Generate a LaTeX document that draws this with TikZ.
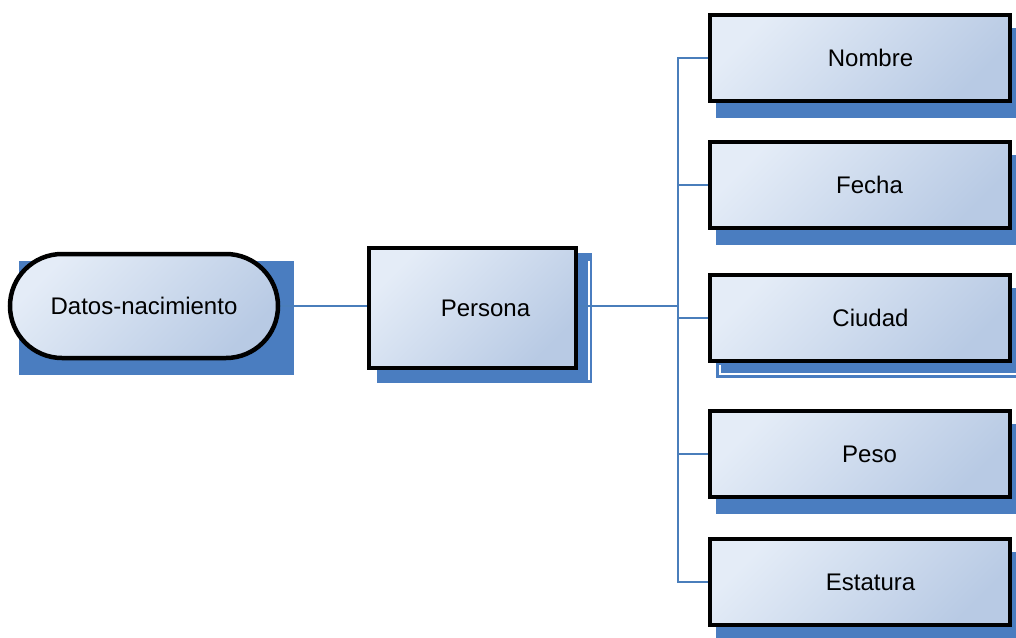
\documentclass[tikz,border=0pt]{standalone}
\usepackage{fontspec}
\setmainfont{Liberation Sans}
\usetikzlibrary{backgrounds}
\definecolor{shadowblue}{HTML}{4A7DC0}
\definecolor{lineblue}{HTML}{4A7EBB}
\definecolor{fillA}{HTML}{E4ECF7}
\definecolor{fillB}{HTML}{B8CAE4}
\tikzset{
  box/.style={draw=black, line width=4.5pt, top color=fillA, bottom color=fillB, shading angle=45,
    inner sep=0pt, font=\fontsize{24}{28}\selectfont},
  rbox/.style={box, minimum width=300pt, minimum height=86pt},
  shadowfill/.style={fill=shadowblue},
  conn/.style={draw=lineblue, line width=2pt},
  whiteln/.style={draw=white, line width=1.5pt}
}
\begin{document}
\begin{tikzpicture}[x=1pt,y=-1pt]
\useasboundingbox (0,0) rectangle (1016,637);
% nodes
\node[box, rounded corners=52pt, minimum width=268pt, minimum height=104pt] (datos) at (144,306) {Datos-nacimiento};
\node[box, minimum width=207pt, minimum height=120pt] (persona) at (472.5,308) {\hspace*{26pt}Persona};
\node[rbox] (nombre) at (860,58) {\hspace*{21pt}Nombre};
\node[rbox] (fecha) at (860,185) {\hspace*{19pt}Fecha};
\node[rbox] (ciudad) at (860,318) {\hspace*{21pt}Ciudad};
\node[rbox] (peso) at (860,454) {\hspace*{19pt}Peso};
\node[rbox] (estatura) at (860,582) {\hspace*{21pt}Estatura};
\coordinate (bus) at (678,306);
\begin{scope}[on background layer]
  % shadows
  \fill[shadowfill] ([shift={(11,9)}]datos.north west) rectangle (294,375);
  \fill[shadowfill] ([shift={(10,7)}]persona.north west) rectangle ([shift={(14,13)}]persona.south east);
  \draw[whiteln] (589,261) -- (589,380);
  \foreach \n in {nombre,fecha,ciudad,peso,estatura}{
    \fill[shadowfill] ([shift={(8,15)}]\n.north west) rectangle ([shift={(10,15)}]\n.south east);
  }
  \draw[whiteln] (720,365) -- (720,374) -- (1016,374);
  % connectors
  \draw[conn] (datos.east) -- (datos.east -| persona.west);
  \draw[conn] (persona.east |- bus) -- (bus);
  \draw[conn] (nombre.west) -| (bus) |- (estatura.west);
  \draw[conn] (fecha.west) -- (fecha.west -| bus);
  \draw[conn] (ciudad.west) -- (ciudad.west -| bus);
  \draw[conn] (peso.west) -- (peso.west -| bus);
\end{scope}
\end{tikzpicture}
\end{document}
